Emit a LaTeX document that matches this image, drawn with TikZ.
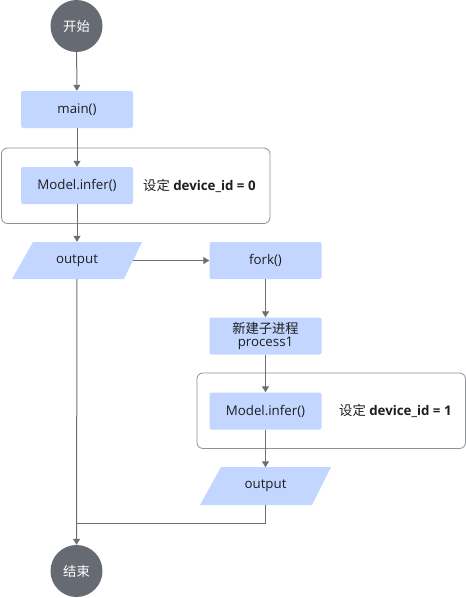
\documentclass[tikz,border=0pt]{standalone}
\usepackage{fontspec}
\setmainfont{Open Sans}
\newfontfamily\cjk{Noto Sans CJK SC}
\usetikzlibrary{arrows.meta}
\definecolor{boxfill}{HTML}{C2D6FF}
\definecolor{circfill}{HTML}{666A72}
\definecolor{linec}{HTML}{6B6E75}
\definecolor{grpc}{HTML}{8E9197}
\definecolor{txt}{HTML}{1E1E1E}
\tikzset{
  proc/.style={fill=boxfill, rounded corners=2pt, minimum width=112pt, minimum height=37pt, inner sep=0pt, text=txt, font=\fontsize{13.3}{15.5}\selectfont, align=center},
  term/.style={circle, fill=circfill, minimum size=52pt, inner sep=0pt, text=white, font=\cjk\fontsize{13.3}{15}\selectfont},
  iobox/.style={minimum width=112pt, minimum height=37pt, inner sep=0pt, text=txt, font=\fontsize{13.3}{15.5}\selectfont},
  grp/.style={draw=grpc, line width=0.8pt, rounded corners=6pt},
  lbl/.style={text=txt, font=\fontsize{13.3}{15.5}\selectfont, inner sep=0pt},
  flow/.style={draw=linec, line width=1pt, -{Triangle[length=6pt,width=7pt]}},
  plain/.style={draw=linec, line width=1pt}
}
\begin{document}
\begin{tikzpicture}[x=1pt,y=-1pt]
\useasboundingbox (0,0) rectangle (466,598);
% groups
\draw[grp] (1.5,148) rectangle (270,223.5);
\draw[grp] (197,373) rectangle (465.5,448.5);
% parallelograms
\fill[boxfill] (33,242) -- (142,242) -- (124,279) -- (12,279) -- cycle;
\fill[boxfill] (221,467) -- (331,467) -- (312,505) -- (200,505) -- cycle;
% nodes
\node[term] (start) at (76.5,26) {开始};
\node[proc] (main) at (77,109.5) {main()};
\node[proc] (inf1) at (77,185.5) {Model.infer()};
\node[lbl, anchor=west] (l1) at (143,185.5) {{\cjk 设定} \textbf{device\_id = 0}};
\node[iobox] (out1) at (77,260.5) {output};
\node[proc] (fork) at (265.5,260.5) {fork()};
\node[proc] (proc1) at (265.5,336) {{\cjk 新建子进程}\\[-3pt]process1};
\node[proc] (inf2) at (265.5,411) {Model.infer()};
\node[lbl, anchor=west] (l2) at (339,411) {{\cjk 设定} \textbf{device\_id = 1}};
\node[iobox] (out2) at (265.5,486) {output};
\node[term] (end) at (76.5,571) {结束};
\coordinate (join) at (76.5,523);
% connectors
\draw[flow] (start) -- (main);
\draw[flow] (main) -- (inf1);
\draw[flow] (inf1) -- (out1);
\draw[flow] (out1.east) -- (fork.west);
\draw[flow] (fork) -- (proc1);
\draw[flow] (proc1) -- (inf2);
\draw[flow] (inf2) -- (out2);
\draw[flow] (out1) -- (end);
\draw[plain] (out2.south) |- (join);
\end{tikzpicture}
\end{document}
